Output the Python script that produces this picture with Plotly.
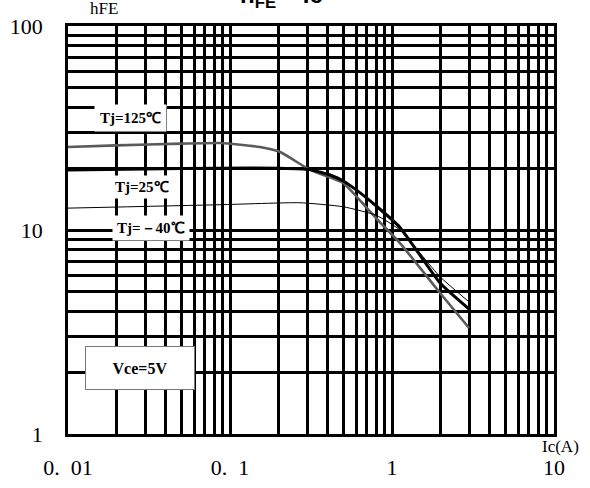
import plotly.graph_objects as go

# Data (Ic in A, hFE)
ic_125 = [0.01, 0.02, 0.05, 0.0867, 0.153, 0.204, 0.312, 0.499, 0.70, 0.843, 1.12, 1.98, 2.99]
hfe_125 = [25.5, 26.0, 26.5, 26.7, 25.5, 24.1, 19.7, 17.0, 12.8, 10.9, 8.63, 4.91, 3.31]

ic_25 = [0.01, 0.03, 0.0867, 0.204, 0.31, 0.43, 0.5, 0.61, 0.81, 1.12, 1.98, 2.99]
hfe_25 = [19.7, 19.9, 20.1, 20.1, 19.8, 18.4, 17.4, 15.6, 13.0, 10.3, 5.5, 4.1]

ic_m40 = [0.01, 0.0867, 0.27, 0.5, 0.8, 1.12, 1.98, 2.99]
hfe_m40 = [12.8, 13.3, 13.6, 13.0, 11.8, 10.0, 5.9, 4.44]

x_tickvals = [0.01, 0.1, 1, 10]
x_ticktext = ["0.\u00a0\u00a001", "0.\u00a0\u00a01", "1", "10"]
y_tickvals = [1, 10, 100]
y_ticktext = ["1", "10", "100"]

x_minor = [m * d for d in (0.01, 0.1, 1) for m in range(2, 10)]
y_minor = [m * d for d in (1, 10) for m in range(2, 10)]

SERIF = "Liberation Serif, Times New Roman, serif"

fig = go.Figure()
fig.add_trace(go.Scatter(x=ic_125, y=hfe_125, mode="lines",
                         line=dict(color="#5a5a5a", width=2.6, shape="spline", smoothing=0.5)))
fig.add_trace(go.Scatter(x=ic_25, y=hfe_25, mode="lines",
                         line=dict(color="#000000", width=3, shape="spline", smoothing=0.5)))
fig.add_trace(go.Scatter(x=ic_m40, y=hfe_m40, mode="lines",
                         line=dict(color="#000000", width=1, shape="spline", smoothing=0.5)))

grid = dict(showgrid=True, gridcolor="black", gridwidth=2.6)
fig.update_xaxes(type="log", range=[-2, 1], tickvals=x_tickvals, ticktext=x_ticktext,
                 ticks="", ticklabelstandoff=12, zeroline=False, automargin=False,
                 tickfont=dict(family=SERIF, size=22, color="black"),
                 showline=True, mirror=True, linecolor="black", linewidth=2.6,
                 minor=dict(tickvals=x_minor, showgrid=True, gridcolor="black", gridwidth=2.6, ticks=""),
                 **grid)
fig.update_yaxes(type="log", range=[0, 2], tickvals=y_tickvals, ticktext=y_ticktext,
                 ticks="", ticklabelstandoff=18, zeroline=False, automargin=False,
                 tickfont=dict(family=SERIF, size=22, color="black"),
                 showline=True, mirror=True, linecolor="black", linewidth=2.6,
                 minor=dict(tickvals=y_minor, showgrid=True, gridcolor="black", gridwidth=2.6, ticks=""),
                 **grid)

W0, W1, H0, H1 = 68, 554, 26, 434


def px(x):
    return (x - W0) / (W1 - W0)


def py(y):
    return (H1 - y) / (H1 - H0)


lab = dict(family=SERIF, size=15, color="black")
annots = [
    dict(text="<b>Tj=125℃</b>", x=px(130), y=py(118), bgcolor="white", borderpad=5, font=lab),
    dict(text="<b>Tj=25℃</b>", x=px(142), y=py(187), bgcolor="white", borderpad=3, font=lab),
    dict(text="<b>Tj=－40℃</b>", x=px(151), y=py(228), bgcolor="white", borderpad=4, font=lab),
    dict(text="<b>Vce=5V</b>", x=px(140), y=py(368), bgcolor="white", bordercolor="#777777",
         borderwidth=1, width=106, height=40, font=dict(family=SERIF, size=16, color="black")),
    dict(text="hFE", x=px(104), y=py(9), font=dict(family=SERIF, size=17, color="black")),
    dict(text="Ic(A)", x=px(560), y=py(447), font=dict(family=SERIF, size=17, color="black")),
    dict(text="<b>h<sub>FE</sub> – Ic</b>", x=px(281), y=1, yanchor="middle", yshift=30,
         font=dict(family="Arial, Liberation Sans, sans-serif", size=24, color="black")),
]
for a in annots:
    a.setdefault("xref", "paper")
    a.setdefault("yref", "paper")
    a.setdefault("xanchor", "center")
    a.setdefault("yanchor", "middle")
    a.setdefault("showarrow", False)
    fig.add_annotation(**a)

fig.update_layout(width=590, height=488, margin=dict(l=W0, r=590 - W1, t=H0, b=488 - H1),
                  plot_bgcolor="white", paper_bgcolor="white", showlegend=False)

fig.write_html("out.html")
